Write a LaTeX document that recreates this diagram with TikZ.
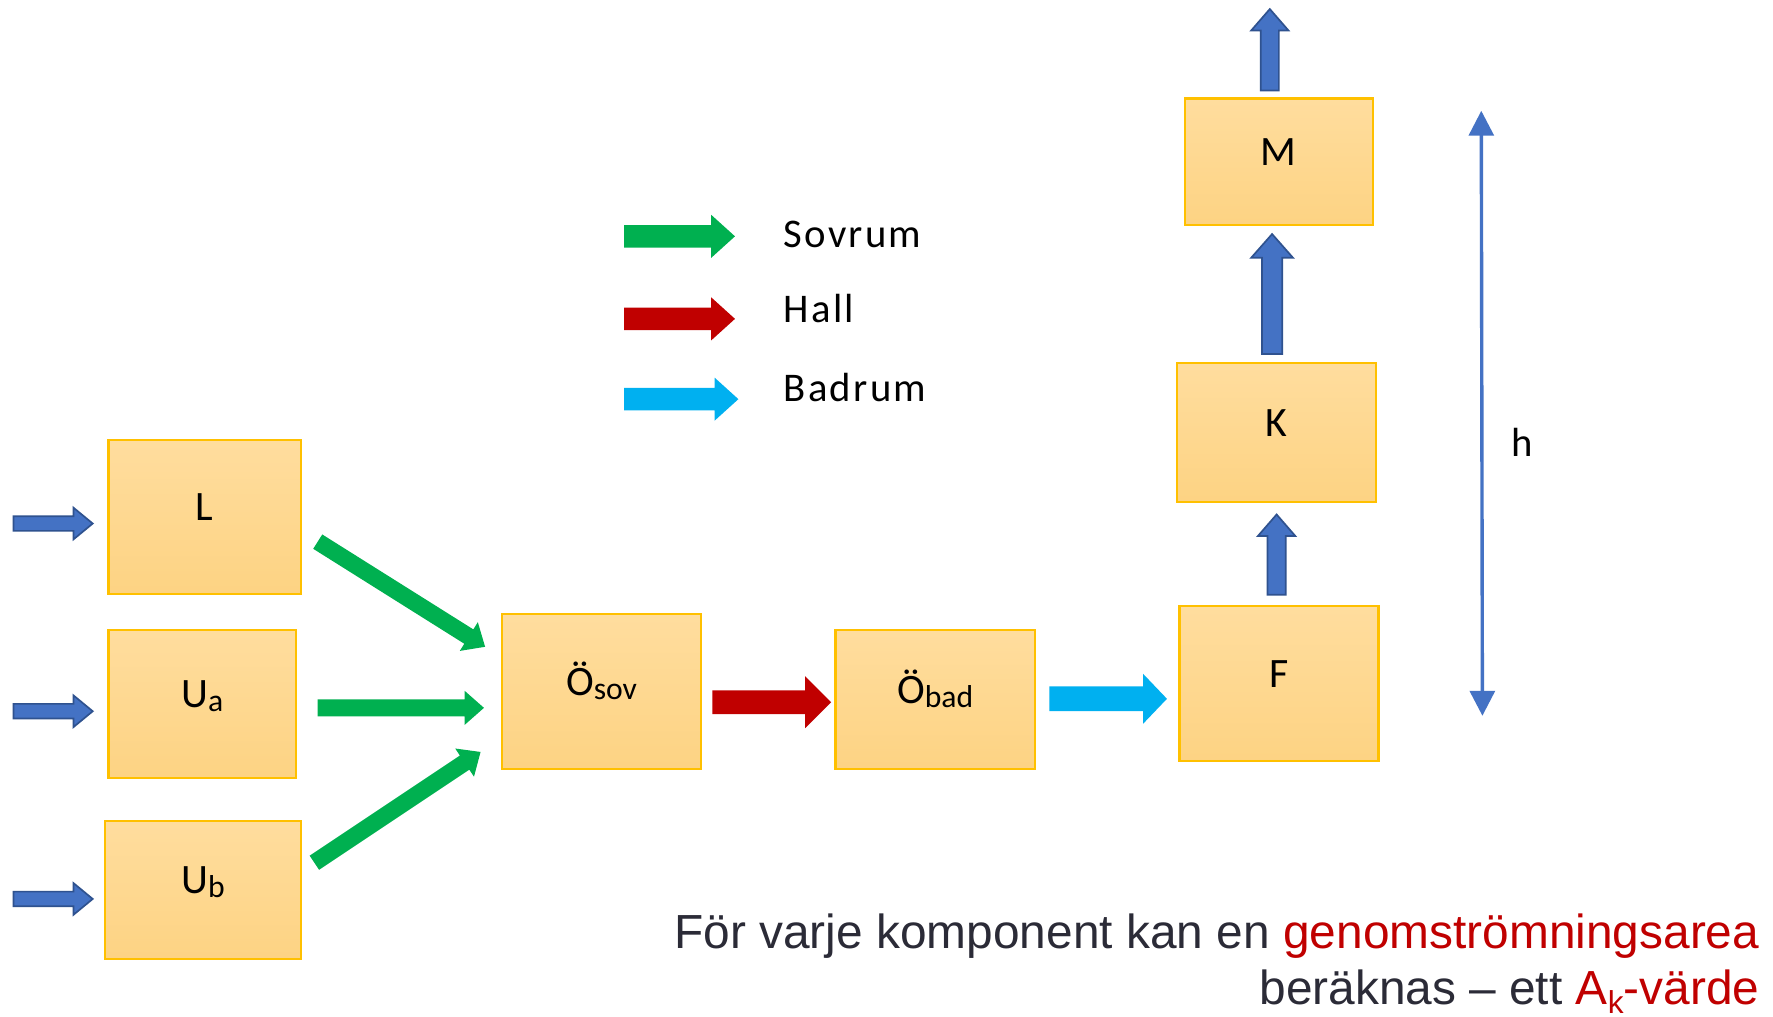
\documentclass[tikz,border=0pt]{standalone}
\usepackage{fontspec}
\setmainfont{Carlito}
\newfontfamily\arialfont{Liberation Sans}
\newfontfamily\legendfont[LetterSpace=5.5]{Carlito}
\usetikzlibrary{calc,arrows.meta}

\definecolor{boxborder}{HTML}{FFC000}
\definecolor{boxtop}{HTML}{FFDD9E}
\definecolor{boxbot}{HTML}{FDD383}
\definecolor{flowblue}{HTML}{4472C4}
\definecolor{flowblueedge}{HTML}{2F528F}
\definecolor{sovgreen}{HTML}{00B050}
\definecolor{hallred}{HTML}{C00000}
\definecolor{badcyan}{HTML}{00B0F0}
\definecolor{textdark}{HTML}{2B2B37}

\newcommand\lowsub[1]{\raisebox{-3.5pt}{\fontsize{28}{28}\selectfont #1}}

% #1 start, #2 tip, #3 half shaft width, #4 half head width, #5 head length, #6 style
\newcommand\blockarrow[6]{%
  \coordinate (ba-h) at ($(#2)!#5!(#1)$);
  \path[#6] ($(#1)!#3!90:(#2)$) -- ($(ba-h)!#3!-90:(#1)$) -- ($(ba-h)!#4!-90:(#1)$)
    -- (#2) -- ($(ba-h)!#4!90:(#1)$) -- ($(ba-h)!#3!90:(#1)$) -- ($(#1)!#3!-90:(#2)$) -- cycle;
}

\tikzset{
  compbox/.style={draw=boxborder, line width=2pt, top color=boxtop, bottom color=boxbot,
    inner sep=0pt, text height=24pt, text depth=17pt, font=\fontsize{37}{37}\selectfont},
  bluearrow/.style={fill=flowblue, draw=flowblueedge, line width=1.5pt, line join=miter},
  greenarrow/.style={fill=sovgreen},
  redarrow/.style={fill=hallred},
  cyanarrow/.style={fill=badcyan},
  legendtext/.style={anchor=base west, inner sep=0pt, font=\legendfont\fontsize{36}{36}\selectfont},
  notetext/.style={anchor=base east, inner sep=0pt, text=textdark, font=\arialfont\fontsize{42.3}{50}\selectfont},
}

\begin{document}
\begin{tikzpicture}[x=1pt,y=-1pt]
\useasboundingbox (0,0) rectangle (1568,899);
\fill[white] (0,0) rectangle (1568,899);

% boxes
\node[compbox, minimum width=170pt, minimum height=136pt] (L) at (181,457) {L};
\node[compbox, minimum width=166pt, minimum height=131pt] (Ua) at (179,622.5) {U\lowsub{a}};
\node[compbox, minimum width=173pt, minimum height=122pt] (Ub) at (179.5,787) {U\lowsub{b}};
\node[compbox, minimum width=176pt, minimum height=137pt] (Osov) at (532,611.5) {Ö\lowsub{sov}};
\node[compbox, minimum width=176pt, minimum height=123pt] (Obad) at (827,618.5) {Ö\lowsub{bad}};
\node[compbox, minimum width=176pt, minimum height=137pt] (F) at (1131,604.5) {F};
\node[compbox, minimum width=176pt, minimum height=123pt] (K) at (1129,382.5) {K};
\node[compbox, minimum width=166pt, minimum height=112pt] (M) at (1131,143) {M};

% input arrows
\coordinate (inL1) at (12,463);  \coordinate (inL2) at (82,463);
\coordinate (inA1) at (12,629);  \coordinate (inA2) at (82,629);
\coordinate (inB1) at (12,795);  \coordinate (inB2) at (82,795);
\blockarrow{inL1}{inL2}{6.5pt}{14pt}{17pt}{bluearrow}
\blockarrow{inA1}{inA2}{6.5pt}{14pt}{17pt}{bluearrow}
\blockarrow{inB1}{inB2}{6.5pt}{14pt}{17pt}{bluearrow}

% green arrows to Osov
\coordinate (gL1) at (281,479); \coordinate (gL2) at (429,572);
\coordinate (gA1) at (281,626); \coordinate (gA2) at (428,626);
\coordinate (gB1) at (278,763); \coordinate (gB2) at (425,665);
\blockarrow{gL1}{gL2}{7.5pt}{15pt}{17pt}{greenarrow}
\blockarrow{gA1}{gA2}{7.5pt}{15pt}{17pt}{greenarrow}
\blockarrow{gB1}{gB2}{7.5pt}{15pt}{17pt}{greenarrow}

% red and cyan
\coordinate (r1) at (630,621); \coordinate (r2) at (735,621);
\blockarrow{r1}{r2}{10.5pt}{23pt}{23pt}{redarrow}
\coordinate (c1) at (928,618); \coordinate (c2) at (1032,618);
\blockarrow{c1}{c2}{11pt}{22pt}{21pt}{cyanarrow}

% vertical blue arrows
\coordinate (fk1) at (1129,526); \coordinate (fk2) at (1129,455);
\blockarrow{fk1}{fk2}{8pt}{16.5pt}{19pt}{bluearrow}
\coordinate (km1) at (1125,313); \coordinate (km2) at (1125,207);
\blockarrow{km1}{km2}{9pt}{18.5pt}{21pt}{bluearrow}
\coordinate (mo1) at (1123,80); \coordinate (mo2) at (1123,8);
\blockarrow{mo1}{mo2}{8pt}{16.5pt}{19pt}{bluearrow}

% legend
\coordinate (lg1) at (552,209); \coordinate (lg2) at (650,209);
\blockarrow{lg1}{lg2}{10pt}{19pt}{21pt}{greenarrow}
\coordinate (lr1) at (552,282); \coordinate (lr2) at (650,282);
\blockarrow{lr1}{lr2}{10pt}{19pt}{21pt}{redarrow}
\coordinate (lc1) at (552,353); \coordinate (lc2) at (653,353);
\blockarrow{lc1}{lc2}{10pt}{19pt}{21pt}{cyanarrow}
\node[legendtext] (sovtxt) at (693,219) {Sovrum};
\node[legendtext] (halltxt) at (693,285.5) {Hall};
\node[legendtext] (badtxt) at (693,355.5) {Badrum};

% height arrow
\coordinate (htop) at (1310,98); \coordinate (hbot) at (1311,633);
\draw[flowblue, line width=3pt, {Triangle[width=22pt,length=22pt]}-{Triangle[width=22pt,length=22pt]}] (htop) -- (hbot);
\node[inner sep=0pt, anchor=base, font=\fontsize{36}{36}\selectfont] (hlabel) at (1346,404) {h};

% note
\node[notetext] (line1) at (1556,839) {För varje komponent kan en \textcolor{hallred}{genomströmningsarea}};
\node[notetext] (line2) at (1556,888) {beräknas – ett \textcolor{hallred}{A\raisebox{-8pt}{\fontsize{28}{28}\selectfont k}-värde}};
\end{tikzpicture}
\end{document}
